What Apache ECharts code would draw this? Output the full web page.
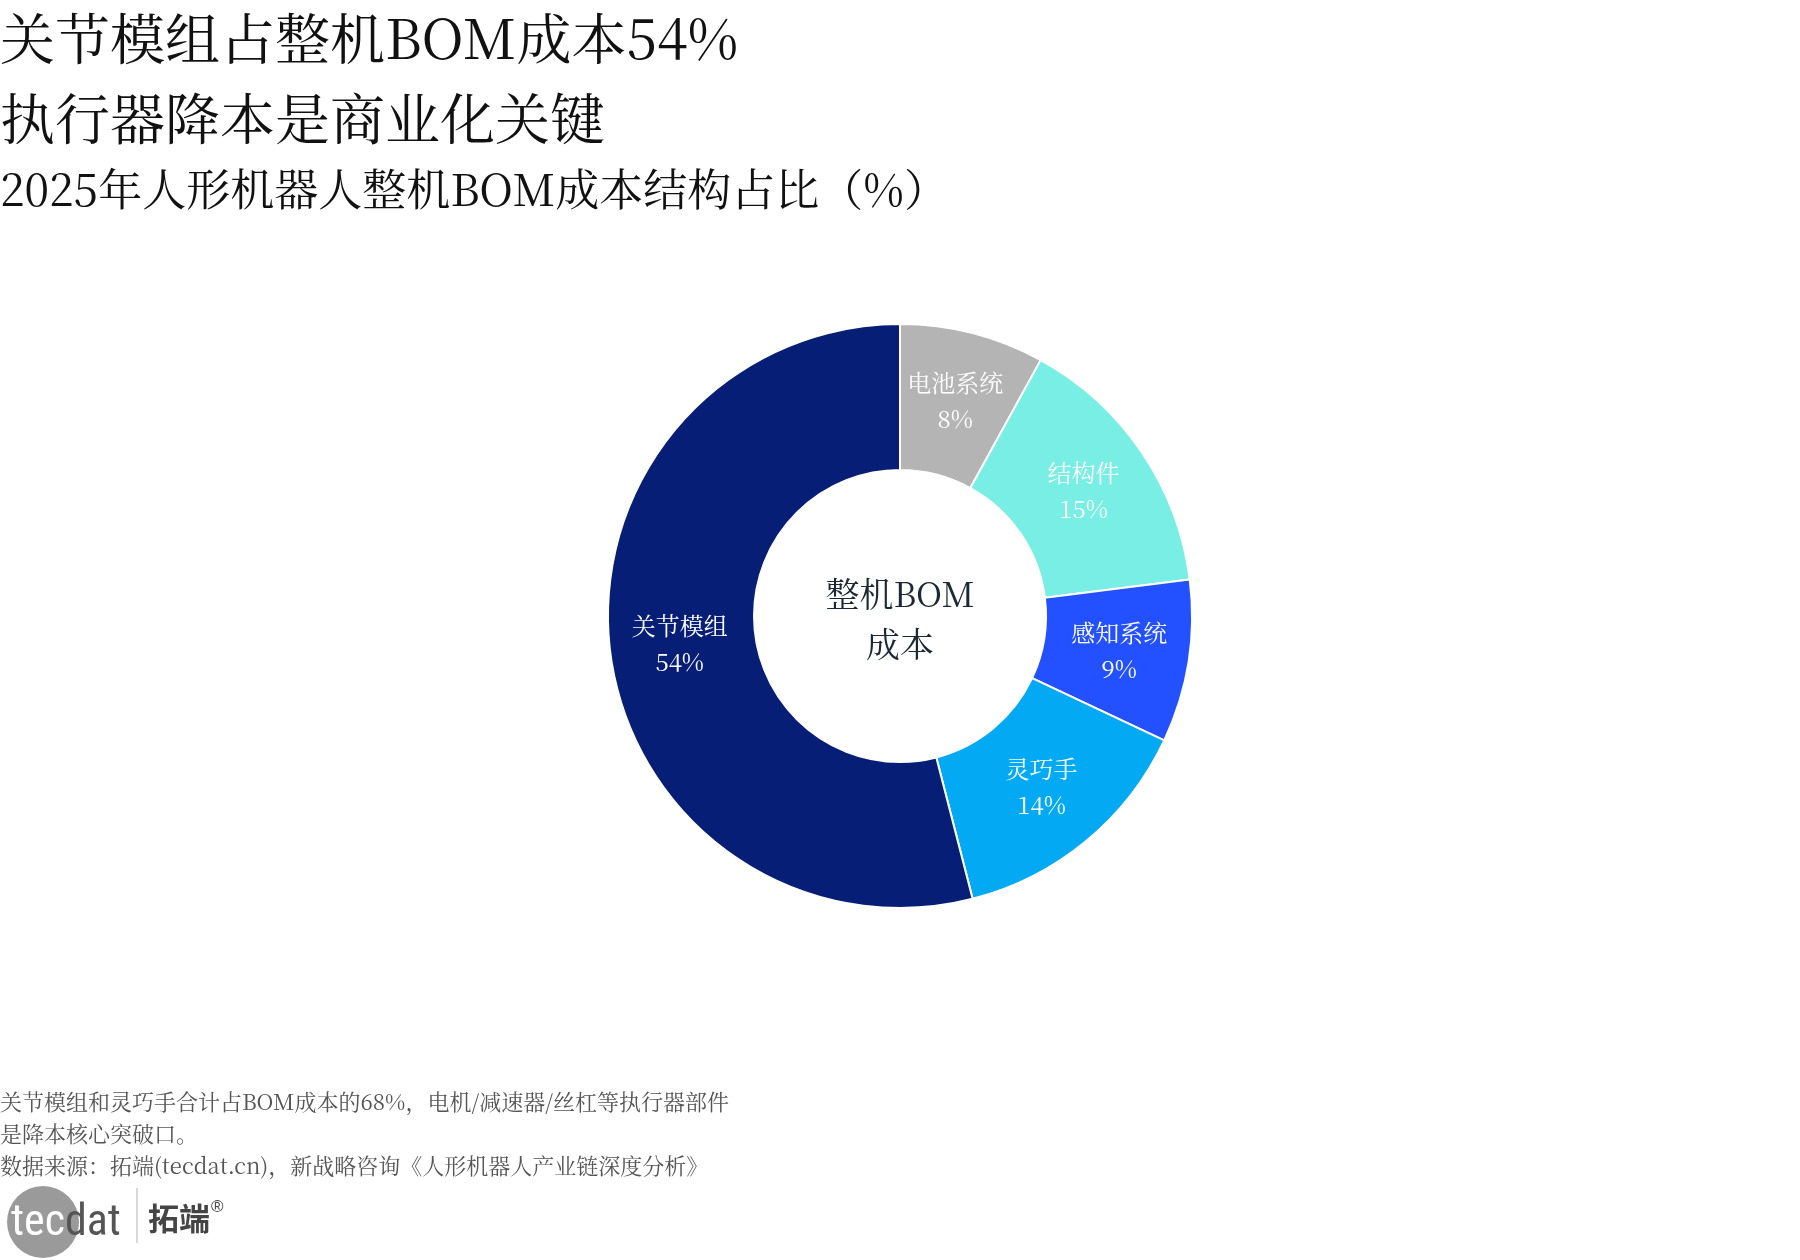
<!DOCTYPE html>
<html>
<head>
<meta charset="utf-8">
<title>2025年人形机器人整机BOM成本结构占比</title>
<script src="https://cdn.jsdelivr.net/npm/echarts@6/dist/echarts.min.js"></script>
<style>
  html, body { margin: 0; padding: 0; background: #fff; }
  #chart { width: 1800px; height: 1260px; }
</style>
</head>
<body>
<div id="chart"></div>
<script>
// 成本构成（%），从12点方向顺时针
var categories = ['电池系统', '结构件', '感知系统', '灵巧手', '关节模组']
var shares = [8, 15, 9, 14, 54]

var palette = ['#b4b4b4', '#78eee4', '#2451ff', '#03aaf3', '#061e75']
var FONT = "SimSun, 'Songti SC', 'Noto Serif CJK SC', serif"
var LOGO_FONT = "'Liberation Sans Narrow', 'Roboto Condensed', Roboto, sans-serif"

var chart = echarts.init(document.getElementById('chart'))

var pieData = []
for (var i = 0; i < categories.length; i++) {
  pieData.push({ name: categories[i], value: shares[i] })
}

chart.setOption({
  color: palette,
  textStyle: { fontFamily: FONT },
  title: [
    {
      text: '关节模组占整机BOM成本54%\n执行器降本是商业化关键',
      left: 0,
      top: -2,
      padding: 0,
      textStyle: { fontSize: 55, lineHeight: 80, fontWeight: 'normal', color: '#111', fontFamily: FONT }
    },
    {
      text: '2025年人形机器人整机BOM成本结构占比（%）',
      left: 0,
      top: 164,
      padding: 0,
      textStyle: { fontSize: 44, lineHeight: 50, fontWeight: 'normal', color: '#111', fontFamily: FONT }
    },
    {
      text: '关节模组和灵巧手合计占BOM成本的68%，电机/减速器/丝杠等执行器部件\n是降本核心突破口。\n数据来源：拓端(tecdat.cn)，新战略咨询《人形机器人产业链深度分析》',
      left: 0,
      top: 1086,
      padding: 0,
      textStyle: { fontSize: 22, lineHeight: 32, fontWeight: 'normal', color: '#555', fontFamily: FONT }
    }
  ],
  series: [{
    type: 'pie',
    center: ['50%', 616],
    radius: [146, 292],
    startAngle: 90,
    clockwise: true,
    avoidLabelOverlap: false,
    itemStyle: { borderColor: '#fff', borderWidth: 2 },
    label: {
      show: true,
      position: 'inside',
      formatter: '{b}\n{c}%',
      fontSize: 24,
      lineHeight: 36,
      color: '#fff',
      fontFamily: FONT
    },
    labelLine: { show: false },
    emphasis: { disabled: true },
    data: pieData
  }],
  graphic: [
    {
      type: 'text',
      x: 900,
      y: 619,
      style: {
        text: '整机BOM\n成本',
        fontSize: 34,
        lineHeight: 50,
        fill: '#1c2833',
        align: 'center',
        verticalAlign: 'middle',
        fontFamily: FONT
      }
    },
    // tecdat 标志
    {
      type: 'circle',
      shape: { cx: 43, cy: 1222, r: 36 },
      style: { fill: '#9a9a9a' }
    },
    {
      type: 'text',
      x: 11,
      y: 1224,
      style: {
        text: '{a|tec}{b|dat}',
        verticalAlign: 'middle',
        rich: {
          a: { fontSize: 44, fontFamily: LOGO_FONT, fill: '#fff' },
          b: { fontSize: 44, fontFamily: LOGO_FONT, fill: '#555' }
        }
      }
    },
    {
      type: 'line',
      shape: { x1: 137, y1: 1188, x2: 137, y2: 1243 },
      style: { stroke: '#ccc', lineWidth: 1.5 }
    },
    {
      type: 'text',
      x: 148,
      y: 1218,
      style: {
        text: '拓端',
        fontSize: 31,
        fontWeight: 'bold',
        fontFamily: "'Noto Sans CJK SC', sans-serif",
        fill: '#444',
        verticalAlign: 'middle'
      }
    },
    {
      type: 'text',
      x: 211,
      y: 1207,
      style: {
        text: '®',
        fontSize: 17,
        fontFamily: "'Liberation Sans', sans-serif",
        fill: '#444',
        verticalAlign: 'middle'
      }
    }
  ]
})
</script>
</body>
</html>
